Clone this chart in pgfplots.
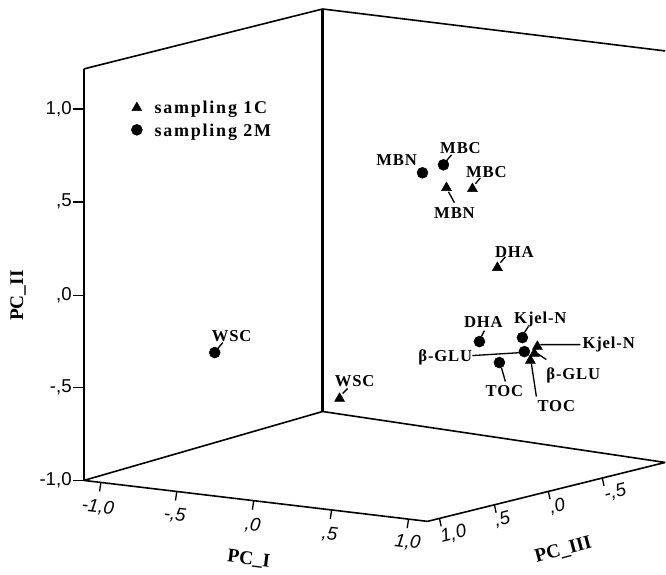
\documentclass[border=0pt]{standalone}
\usepackage{pgfplots}
\pgfplotsset{compat=1.18}
\usepackage{fontspec}
\setmainfont{Liberation Serif}
\newfontfamily\lab[LetterSpace=5]{Liberation Serif}
\newfontfamily\leg[LetterSpace=10]{Liberation Serif}
\newfontfamily\sansf{Liberation Sans}
\begin{document}
\begin{tikzpicture}
\begin{axis}[
  scale only axis, width=499.5pt, height=429.75pt,
  xmin=0, xmax=666, ymin=0, ymax=573, y dir=reverse,
  hide axis, clip=false, unbounded coords=jump,
  every axis plot/.append style={black},
]
% invisible frame for the bounding box
\addplot[draw=none, mark=none] coordinates {(0,0) (666,573)};
% box: vertical edges
\addplot[line width=1.8pt, mark=none] table[row sep=\\]{
x y\\ 84 69\\ 84 481\\ nan nan\\ 323 9\\ 323 412\\};
% box: slanted edges
\addplot[line width=1.2pt, mark=none] table[row sep=\\]{
x y\\ 84 69\\ 323 9\\ 666 51\\ nan nan\\
84 481\\ 323 412\\ 666 463\\ nan nan\\
84 481\\ 428 522\\ 666 463\\};
% PC_II ticks
\addplot[line width=1.2pt, mark=none] table[row sep=\\]{
x y\\ 73 109\\ 84 109\\ nan nan\\ 73 202\\ 84 202\\ nan nan\\
73 296\\ 84 296\\ nan nan\\ 73 388\\ 84 388\\ nan nan\\ 73 481\\ 84 481\\};
% PC_I ticks
\addplot[line width=1.0pt, mark=none] table[row sep=\\]{
x y\\ 101 483.0\\ 99.7 492\\ nan nan\\ 177 492.1\\ 175.7 501.1\\ nan nan\\
254 501.3\\ 252.7 510.3\\ nan nan\\ 332 510.6\\ 330.7 519.6\\ nan nan\\
409 519.8\\ 407.7 528.8\\};
% PC_III ticks
\addplot[line width=1.0pt, mark=none] table[row sep=\\]{
x y\\ 440 519.0\\ 441.7 527\\ nan nan\\ 495 505.3\\ 496.7 513.3\\ nan nan\\
549 491.9\\ 550.7 499.9\\ nan nan\\ 603 478.4\\ 604.7 486.4\\};
% leader lines
\addplot[line width=1.0pt, mark=none] table[row sep=\\]{
x y\\ 447 161\\ 452 155\\ nan nan\\
218 349\\ 223 343\\ nan nan\\
482 337\\ 485 331\\ nan nan\\
525 333\\ 529 327\\ nan nan\\
473 356\\ 522 353\\ nan nan\\
502 368\\ 506 382\\ nan nan\\
455 203\\ 449 192\\ nan nan\\
476 184\\ 481 178\\ nan nan\\
501 263\\ 506 257\\ nan nan\\
343 394\\ 348 389\\ nan nan\\
581 345\\ 541 345\\ nan nan\\
547 360\\ 538 354\\ nan nan\\
537 397\\ 532 364\\};
% sampling 2M (circles)
\addplot[only marks, mark=*, mark size=4.1pt, fill=black] table[row sep=\\]{
x y\\ 423 173\\ 444 165\\ 480 342\\ 523 338\\ 525 352\\ 500 363\\ 215 353\\ 137 130\\};
% sampling 1C (triangles)
\addplot[only marks, mark=triangle*, mark size=4.3pt, fill=black] table[row sep=\\]{
x y\\ 447 188\\ 473 189\\ 498 268\\ 340 399\\ 538 347\\ 535 354\\ 531 361\\ 137 108\\};
% legend text
\node[anchor=west, font=\leg\bfseries\fontsize{13.5}{15}\selectfont] at (axis cs:150,109) {sampling 1C};
\node[anchor=west, font=\leg\bfseries\fontsize{13.5}{15}\selectfont] at (axis cs:150,132) {sampling 2M};
% point labels
\begin{scope}[every node/.style={font=\lab\bfseries\fontsize{12.5}{14}\selectfont, inner sep=0pt}]
\node at (axis cs:397,160) {MBN};
\node at (axis cs:461,148) {MBC};
\node at (axis cs:232,337) {WSC};
\node at (axis cs:484,322) {DHA};
\node at (axis cs:541,320) {Kjel-N};
\node[anchor=east] at (axis cs:473,358) {β-GLU};
\node at (axis cs:505,392) {TOC};
\node at (axis cs:455,213) {MBN};
\node at (axis cs:487,172) {MBC};
\node at (axis cs:515,252) {DHA};
\node at (axis cs:355,382) {WSC};
\node[anchor=west] at (axis cs:583,345) {Kjel-N};
\node at (axis cs:574,376) {β-GLU};
\node at (axis cs:557,407) {TOC};
\end{scope}
% PC_II tick labels
\begin{scope}[every node/.style={font=\sansf\fontsize{14}{16}\selectfont, anchor=east, inner sep=0pt}]
\node at (axis cs:72,109) {1,0};
\node at (axis cs:72,202) {,5};
\node at (axis cs:72,296) {,0};
\node at (axis cs:72,388) {-,5};
\node at (axis cs:72,481) {-1,0};
\end{scope}
% PC_I tick labels
\begin{scope}[every node/.style={font=\sansf\itshape\fontsize{14}{16}\selectfont, rotate=-7, inner sep=0pt}]
\node at (axis cs:98,508) {-1,0};
\node at (axis cs:175,516) {-,5};
\node at (axis cs:253,526) {,0};
\node at (axis cs:330,535) {,5};
\node at (axis cs:408,543) {1,0};
\end{scope}
% PC_III tick labels
\begin{scope}[every node/.style={font=\sansf\itshape\fontsize{14}{16}\selectfont, rotate=14, inner sep=0pt}]
\node at (axis cs:454,535) {1,0};
\node at (axis cs:503,520) {,5};
\node at (axis cs:558,507) {,0};
\node at (axis cs:616,493) {-,5};
\end{scope}
% axis titles
\node[font=\bfseries\fontsize{14.5}{16}\selectfont, rotate=-7] at (axis cs:249,560) {PC\_I};
\node[font=\bfseries\fontsize{14.5}{16}\selectfont, rotate=15] at (axis cs:564,551) {PC\_III};
\node[font=\bfseries\fontsize{14.5}{16}\selectfont, rotate=90] at (axis cs:18,296) {PC\_II};
\end{axis}
\end{tikzpicture}
\end{document}
